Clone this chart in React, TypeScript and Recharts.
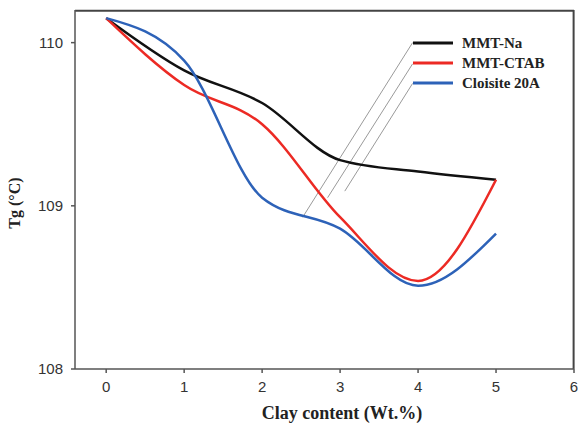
import React from 'react';
import {
  LineChart,
  Line,
  XAxis,
  YAxis,
  ReferenceLine,
} from 'recharts';

const clayContent = [0, 1, 2, 3, 4, 5];
const mmtNa = [110.15, 109.83, 109.63, 109.28, 109.21, 109.16];
const mmtCtab = [110.15, 109.74, 109.5, 108.93, 108.54, 109.16];
const cloisite20A = [110.15, 109.89, 109.05, 108.86, 108.51, 108.83];

const xTicks = [0, 1, 2, 3, 4, 5, 6];
const yTicks = [108, 109, 110];
const xDomain = [-0.4, 6];
const yDomain = [108, 110.2];

const seriesNames = ['MMT-Na', 'MMT-CTAB', 'Cloisite 20A'];
const seriesColors = ['#111111', '#ec2a24', '#2d62b8'];

// leader lines from the legend down to the curves (data coordinates)
const leaderStarts = [
  { x: 3.93, y: 110.0 },
  { x: 3.93, y: 109.87 },
  { x: 3.93, y: 109.75 },
];
const leaderEnds = [
  { x: 2.52, y: 108.93 },
  { x: 2.84, y: 109.05 },
  { x: 3.06, y: 109.09 },
];

const data = clayContent.map((c, i) => ({
  clay: c,
  na: mmtNa[i],
  ctab: mmtCtab[i],
  cloisite: cloisite20A[i],
}));

const serif = '"Liberation Serif", "Times New Roman", serif';
const sans = '"Liberation Sans", Arial, sans-serif';

function LegendBox() {
  return (
    <div
      style={{
        position: 'absolute',
        left: 413,
        top: 33,
        fontFamily: serif,
        fontWeight: 'bold',
        fontSize: 15,
        color: '#222',
      }}
    >
      {seriesNames.map((name, i) => (
        <div key={name} style={{ display: 'flex', alignItems: 'center', height: 20 }}>
          <svg width={40} height={20} style={{ display: 'block' }}>
            <line x1={0} y1={10} x2={40} y2={10} stroke={seriesColors[i]} strokeWidth={3} />
          </svg>
          <span style={{ marginLeft: 9, whiteSpace: 'nowrap', lineHeight: '20px' }}>{name}</span>
        </div>
      ))}
    </div>
  );
}

export default function App() {
  return (
    <div style={{ position: 'absolute', left: 0, top: 0, width: 578, height: 425, background: '#fff' }}>
      <LineChart
        width={578}
        height={425}
        data={data}
        margin={{ top: 10, right: 4, left: 20, bottom: 0 }}
      >
        <XAxis
          dataKey="clay"
          type="number"
          domain={xDomain}
          ticks={xTicks}
          height={56}
          tickSize={4}
          tickMargin={8}
          stroke="#555"
          strokeWidth={1.5}
          tick={{ fontFamily: sans, fontSize: 15, fill: '#333' }}
          label={{
            content: () => (
              <text
                x={342}
                y={419}
                textAnchor="middle"
                fontFamily={serif}
                fontWeight="bold"
                fontSize={18}
                fill="#222"
              >
                Clay content (Wt.%)
              </text>
            ),
          }}
        />
        <YAxis
          type="number"
          domain={yDomain}
          ticks={yTicks}
          width={55}
          tickSize={4}
          tickMargin={8}
          stroke="#555"
          strokeWidth={1.5}
          tick={{ fontFamily: sans, fontSize: 15, fill: '#333' }}
          label={{
            content: () => (
              <text
                x={20}
                y={203}
                transform="rotate(-90 20 203)"
                textAnchor="middle"
                fontFamily={serif}
                fontWeight="bold"
                fontSize={16}
                fill="#222"
              >
                Tg (°C)
              </text>
            ),
          }}
        />
        {/* top and right sides of the frame, nudged just inside the plot */}
        <ReferenceLine
          segment={[{ x: xDomain[0], y: 110.195 }, { x: xDomain[1], y: 110.195 }]}
          stroke="#444"
          strokeWidth={2}
        />
        <ReferenceLine
          segment={[{ x: 5.995, y: yDomain[0] }, { x: 5.995, y: yDomain[1] }]}
          stroke="#444"
          strokeWidth={2}
        />
        {leaderStarts.map((s, i) => (
          <ReferenceLine
            key={i}
            segment={[s, leaderEnds[i]]}
            stroke="#9a9a9a"
            strokeWidth={1}
          />
        ))}
        <Line
          type="monotone"
          dataKey="na"
          name={seriesNames[0]}
          stroke={seriesColors[0]}
          strokeWidth={2.5}
          dot={false}
          isAnimationActive={false}
        />
        <Line
          type="monotone"
          dataKey="ctab"
          name={seriesNames[1]}
          stroke={seriesColors[1]}
          strokeWidth={2.5}
          dot={false}
          isAnimationActive={false}
        />
        <Line
          type="monotone"
          dataKey="cloisite"
          name={seriesNames[2]}
          stroke={seriesColors[2]}
          strokeWidth={2.5}
          dot={false}
          isAnimationActive={false}
        />
      </LineChart>
      <LegendBox />
    </div>
  );
}
